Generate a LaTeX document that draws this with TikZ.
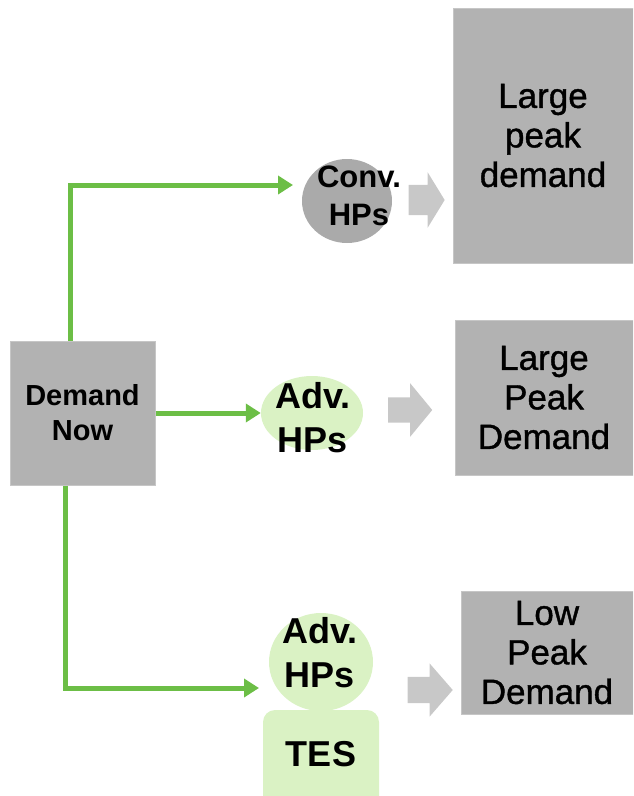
\documentclass[tikz,border=0pt]{standalone}
\usepackage{fontspec}
\setmainfont{Liberation Sans}
\newfontfamily\peakfont[FakeBold=1.1]{Liberation Sans}
\usetikzlibrary{arrows.meta, positioning, shapes.geometric, shapes.arrows}
\definecolor{boxgray}{RGB}{178,178,178}
\definecolor{boxedge}{RGB}{198,198,198}
\definecolor{convgray}{RGB}{170,170,170}
\definecolor{hpgreen}{RGB}{218,242,196}
\definecolor{linkgreen}{RGB}{108,190,70}
\definecolor{pointgray}{RGB}{200,200,200}

\begin{document}
\begin{tikzpicture}[x=1pt,y=-1pt]
\tikzstyle{every node}+=[inner sep=0pt]
\tikzstyle{boxnode}=[fill=boxgray, draw=boxedge, line width=1pt, align=center]
\tikzstyle{hpnode}=[ellipse, fill=hpgreen]
\tikzstyle{hptext}=[align=center, font=\fontsize{36}{44}\selectfont\bfseries]
\tikzstyle{peaktext}=[font=\fontsize{35}{39.5}\selectfont\peakfont]
\tikzstyle{greenarrow}=[linkgreen, line width=5pt, -{Triangle[length=15pt,width=18pt]}]
\tikzstyle{grayarrow}=[single arrow, fill=pointgray, single arrow head indent=0pt, inner xsep=0pt]
\useasboundingbox (0,0) rectangle (633,796);
\clip (0,0) rectangle (633,796);
% demand now
\node [boxnode, minimum width=145pt, minimum height=144pt, font=\fontsize{29}{35}\selectfont\bfseries] (now) at (82.5,413) {Demand\\Now};
% outcome boxes
\node [boxnode, peaktext, minimum width=180pt, minimum height=255pt] (large1) at (543,135.5) {Large\\peak\\demand};
\node [boxnode, peaktext, minimum width=178pt, minimum height=155pt] (large2) at (544,397.5) {Large\\Peak\\Demand};
\node [boxnode, peaktext, minimum width=172pt, minimum height=123pt] (low) at (547,652.5) {Low\\Peak\\Demand};
% heat pumps
\node [ellipse, fill=convgray, minimum width=90pt, minimum height=84pt] (conv) at (347,201) {};
\node [align=center, font=\fontsize{31}{38}\selectfont\bfseries] (convtxt) at (359,196) {Conv.\\HPs};
\node [hpnode, minimum width=102pt, minimum height=74pt] (adv1) at (312,413) {};
\node [hptext] (adv1txt) at (313,418) {Adv.\\HPs};
\node [hpnode, minimum width=104pt, minimum height=98pt] (adv2) at (321,662) {};
\node [hptext] (adv2txt) at (320,653) {Adv.\\HPs};
\node [fill=hpgreen, rounded corners=12pt, minimum width=116pt, minimum height=120pt] (tes) at (321,770) {};
\node [hptext] (testxt) at (321,754) {TES};
% result arrows
\node [grayarrow, inner ysep=15pt, minimum height=36pt, single arrow head extend=12.5pt, single arrow tip angle=117] (p1) at (422,200) {};
\node [grayarrow, inner ysep=12.5pt, minimum height=44pt, single arrow head extend=14pt, single arrow tip angle=101] (p2) at (405,410) {};
\node [grayarrow, inner ysep=13pt, minimum height=45pt, single arrow head extend=13.5pt, single arrow tip angle=98] (p3) at (424.5,690) {};
% links
\coordinate (convin) at (293,185);
\coordinate (advin) at (259,688);
\draw [greenarrow] ([xshift=-12.5pt]now.north) |- (convin);
\draw [greenarrow] (now.east) -- (adv1.west);
\draw [greenarrow] ([xshift=-17.5pt]now.south) |- (advin);
\end{tikzpicture}
\end{document}
